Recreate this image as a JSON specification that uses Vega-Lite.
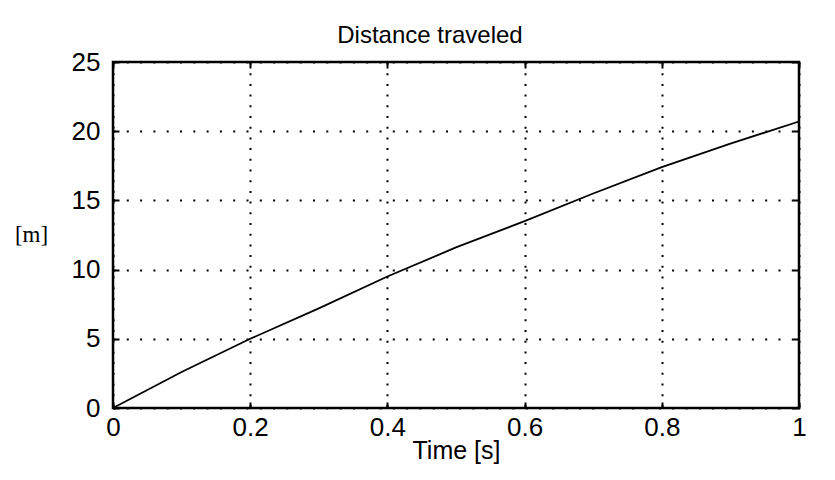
{
  "$schema": "https://vega.github.io/schema/vega-lite/v6.json",
  "width": 686,
  "height": 346,
  "autosize": {"type": "none"},
  "padding": {"left": 113, "top": 62, "right": 36, "bottom": 72},
  "background": "white",
  "title": {
    "text": "Distance traveled",
    "font": "Liberation Sans",
    "fontSize": 24,
    "fontWeight": "normal",
    "color": "black",
    "anchor": "middle",
    "frame": "group",
    "baseline": "alphabetic",
    "dx": -26,
    "dy": 38,
    "offset": 20
  },
  "data": {
    "values": [
      {"t": 0.0, "d": 0.0},
      {"t": 0.1, "d": 2.6},
      {"t": 0.2, "d": 5.0},
      {"t": 0.3, "d": 7.2},
      {"t": 0.4, "d": 9.5},
      {"t": 0.5, "d": 11.6},
      {"t": 0.6, "d": 13.5},
      {"t": 0.7, "d": 15.5},
      {"t": 0.8, "d": 17.4},
      {"t": 0.9, "d": 19.1},
      {"t": 1.0, "d": 20.7}
    ]
  },
  "layer": [
    {
      "mark": {"type": "line", "color": "black", "strokeWidth": 1.8},
      "encoding": {
        "x": {
          "field": "t",
          "type": "quantitative",
          "scale": {"domain": [0, 1], "nice": false, "zero": false},
          "axis": {
            "orient": "bottom",
            "values": [0, 0.2, 0.4, 0.6, 0.8, 1],
            "format": ".1~f",
            "grid": true,
            "gridColor": "black",
            "gridDash": [2, 8.7],
            "gridWidth": 2,
            "gridOpacity": 1,
            "tickSize": -6,
            "tickWidth": 2,
            "tickColor": "black",
            "domain": false,
            "labelFont": "Liberation Sans",
            "labelFontSize": 26,
            "labelColor": "black",
            "labelPadding": 12,
            "labelFlush": false,
            "title": "Time [s]",
            "titleFont": "Liberation Sans",
            "titleFontSize": 25,
            "titleFontWeight": "normal",
            "titleColor": "black",
            "titleBaseline": "alphabetic",
            "titleY": 50
          }
        },
        "y": {
          "field": "d",
          "type": "quantitative",
          "scale": {"domain": [0, 25], "nice": false},
          "axis": {
            "orient": "left",
            "values": [0, 5, 10, 15, 20, 25],
            "grid": true,
            "gridColor": "black",
            "gridDash": [2, 11.3],
            "gridWidth": 2,
            "gridOpacity": 1,
            "tickSize": -6,
            "tickWidth": 2,
            "tickColor": "black",
            "domain": false,
            "labelFont": "Liberation Sans",
            "labelFontSize": 26,
            "labelColor": "black",
            "labelPadding": 19,
            "labelFlush": false,
            "title": "[m]",
            "titleAngle": 0,
            "titleFont": "Liberation Serif",
            "titleFontSize": 23,
            "titleFontWeight": "normal",
            "titleColor": "black",
            "titleAlign": "center",
            "titleBaseline": "middle",
            "titleX": -82,
            "titleY": 172
          }
        }
      }
    },
    {
      "mark": {"type": "line", "opacity": 0},
      "encoding": {
        "x": {
          "field": "t",
          "type": "quantitative",
          "scale": {"domain": [0, 1], "nice": false, "zero": false},
          "axis": {
            "orient": "top",
            "values": [0, 0.2, 0.4, 0.6, 0.8, 1],
            "grid": false,
            "labels": false,
            "domain": false,
            "tickSize": -6,
            "tickWidth": 2,
            "tickColor": "black",
            "title": null
          }
        },
        "y": {
          "field": "d",
          "type": "quantitative",
          "scale": {"domain": [0, 25], "nice": false},
          "axis": {
            "orient": "right",
            "values": [0, 5, 10, 15, 20, 25],
            "grid": false,
            "labels": false,
            "domain": false,
            "tickSize": -6,
            "tickWidth": 2,
            "tickColor": "black",
            "title": null
          }
        }
      }
    }
  ],
  "resolve": {"axis": {"x": "independent", "y": "independent"}},
  "config": {
    "view": {"stroke": "black", "strokeWidth": 2.5}
  }
}
